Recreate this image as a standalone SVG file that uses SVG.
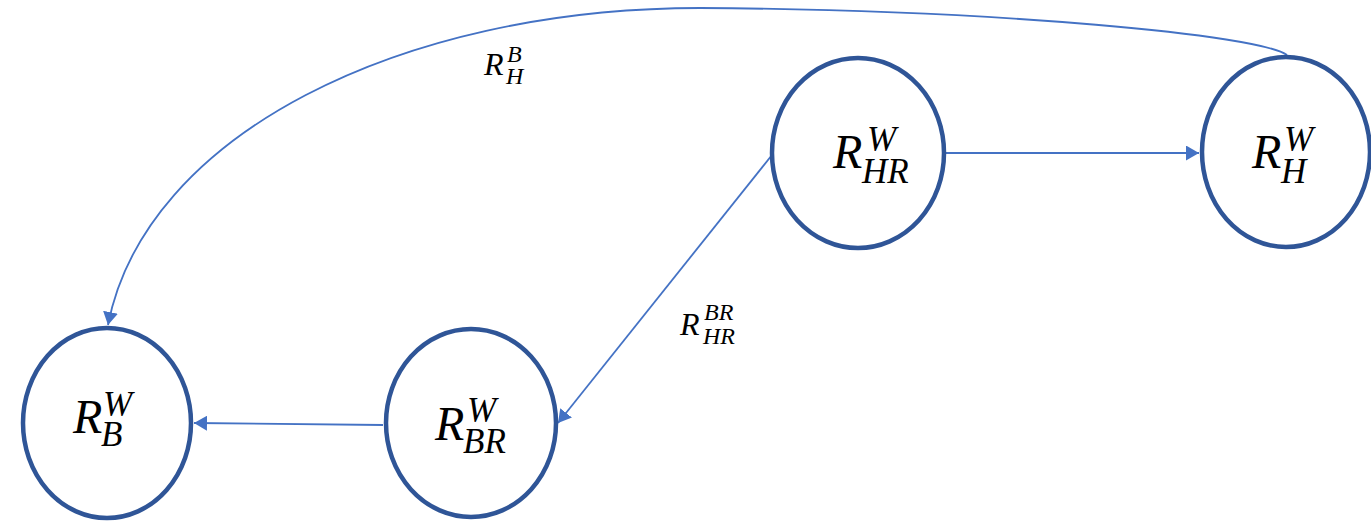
<svg xmlns="http://www.w3.org/2000/svg" width="1371" height="524" viewBox="0 0 1371 524">
<style>
.node{fill:#fff;stroke:#2F5597;stroke-width:4.5}
.edge{fill:none;stroke:#4472C4;stroke-width:1.8}
.m{font-family:"Liberation Serif","Times New Roman",serif;font-style:italic;fill:#000}
.big{font-size:48px}
.sm{font-size:35px}
.lb{font-size:32px}
.ls{font-size:24px}
</style>
<defs>
<marker id="arr" markerUnits="userSpaceOnUse" markerWidth="14" markerHeight="15" refX="13" refY="7.5" orient="auto">
<path d="M0,0 L13,7.5 L0,15 z" fill="#4472C4"/>
</marker>
</defs>
<rect width="1371" height="524" fill="#fff"/>
<g id="connectors">
<path class="edge" d="M1287,55 C1260,35 1000,10 700,8 C400,8 145,135 108,325" marker-end="url(#arr)"/>
<line class="edge" x1="946" y1="153" x2="1199" y2="153" marker-end="url(#arr)"/>
<line class="edge" x1="383" y1="425" x2="194" y2="423" marker-end="url(#arr)"/>
<line class="edge" x1="772" y1="155" x2="558" y2="423" marker-end="url(#arr)"/>
<g id="label-RHB">
<text class="m lb" x="484" y="75">R</text>
<text class="m ls" x="507" y="62">B</text>
<text class="m ls" x="506" y="84">H</text>
</g>
<g id="label-RHRBR">
<text class="m lb" x="680" y="335">R</text>
<text class="m ls" x="704" y="320">BR</text>
<text class="m ls" x="703" y="344">HR</text>
</g>
</g>
<g id="node-RBW">
<ellipse class="node" cx="107" cy="423" rx="84" ry="95"/>
<text class="m big" x="73" y="433">R</text>
<text class="m sm" x="103" y="416">W</text>
<text class="m sm" x="101" y="446">B</text>
</g>
<g id="node-RBRW">
<ellipse class="node" cx="471" cy="423" rx="85" ry="94"/>
<text class="m big" x="435" y="440">R</text>
<text class="m sm" x="467" y="422">W</text>
<text class="m sm" x="463" y="453">BR</text>
</g>
<g id="node-RHRW">
<ellipse class="node" cx="858" cy="153" rx="86" ry="95"/>
<text class="m big" x="833" y="168">R</text>
<text class="m sm" x="867" y="151">W</text>
<text class="m sm" x="862" y="183">HR</text>
</g>
<g id="node-RHW">
<ellipse class="node" cx="1286" cy="152" rx="84" ry="95"/>
<text class="m big" x="1252" y="168">R</text>
<text class="m sm" x="1284" y="151">W</text>
<text class="m sm" x="1281" y="183">H</text>
</g>
</svg>
